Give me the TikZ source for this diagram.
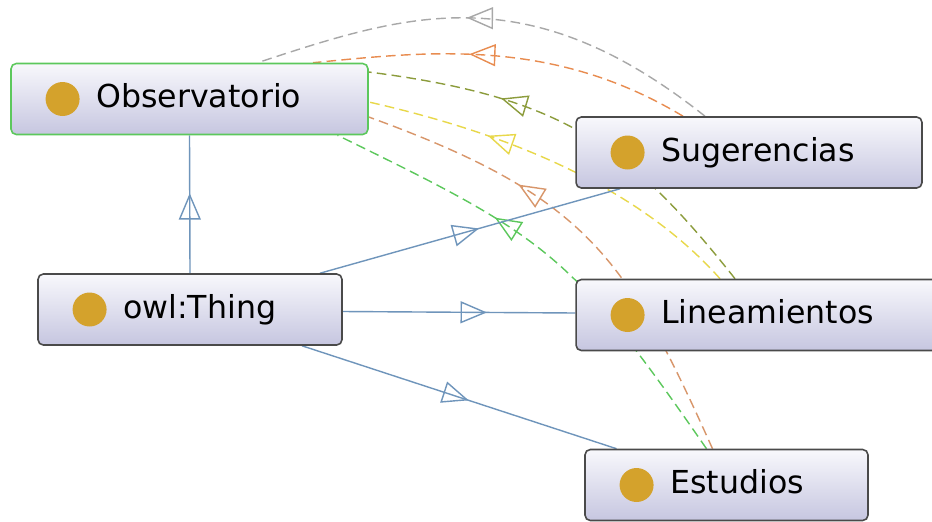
\documentclass[tikz,border=0pt]{standalone}
\usepackage{fontspec}
\setmainfont{DejaVu Sans}
\usetikzlibrary{positioning,arrows.meta,decorations.markings,backgrounds}
\definecolor{boxline}{HTML}{4A4A4A}
\definecolor{obsline}{HTML}{5CC85C}
\definecolor{boxtop}{HTML}{F8F8FC}
\definecolor{boxbot}{HTML}{C6C6E0}
\definecolor{beadc}{HTML}{D4A22C}
\definecolor{isablue}{HTML}{6F95BB}
\definecolor{grayc}{HTML}{A8A8A8}
\definecolor{orangec}{HTML}{E88C50}
\definecolor{olivec}{HTML}{8C9C3C}
\definecolor{yellowc}{HTML}{E8D84A}
\definecolor{tanc}{HTML}{D8966A}
\definecolor{greenc}{HTML}{5CC85C}
\tikzset{
  cls/.style={draw=boxline, line width=0.9pt, rounded corners=3pt, top color=boxtop, bottom color=boxbot, minimum height=1.42cm, inner sep=0pt},
  bead/.style={circle, fill=beadc, minimum size=0.68cm, inner sep=0pt},
  cname/.style={inner sep=0pt, font=\fontsize{18}{20}\selectfont, text height=10pt, text depth=0pt, right=0.32cm of #1},
  isa/.style={draw=isablue, line width=0.8pt, postaction={decorate, decoration={markings, mark=at position #1 with {\arrow{Triangle[open, length=15pt, width=12.5pt]}}}}},
  eqv/.style 2 args={draw=#1, line width=0.8pt, dash pattern=on 5.5pt off 3pt, postaction={decorate, decoration={markings, mark=at position #2 with {\arrow{Triangle[open, length=15pt, width=12.5pt]}}}}}
}
\begin{document}
\begin{tikzpicture}[x=0.02cm, y=-0.02cm]
    \useasboundingbox (0,0) rectangle (932,521);
    \node[cls, draw=obsline, minimum width=7.14cm] (obs) at (189.5,99) {};
    \node[cls, minimum width=6.92cm] (sug) at (749,152.5) {};
    \node[cls, minimum width=6.08cm] (thing) at (190,309.5) {};
    \node[cls, minimum width=7.3cm] (lin) at (758.5,315) {};
    \node[cls, minimum width=5.66cm] (est) at (726.5,485) {};
    \node[bead, right=0.7cm of obs.west] (obsdot) {};
    \node[bead, right=0.7cm of sug.west] (sugdot) {};
    \node[bead, right=0.7cm of thing.west] (thingdot) {};
    \node[bead, right=0.7cm of lin.west] (lindot) {};
    \node[bead, right=0.7cm of est.west] (estdot) {};
    \node[cname=obsdot] (obslbl) {Observatorio};
    \node[cname=sugdot] (suglbl) {Sugerencias};
    \node[cname=thingdot] (thinglbl) {owl:Thing};
    \node[cname=lindot] (linlbl) {Lineamientos};
    \node[cname=estdot] (estlbl) {Estudios};
    \begin{scope}[on background layer]
    \fill[white] (0,0) rectangle (932,521);
    \draw[eqv={grayc}{0.55}] ([shift={(-44,0)}]sug.north) .. controls (526,-26) and (406,14) .. ([shift={(68,0)}]obs.north);
    \draw[eqv={orangec}{0.59}] ([shift={(-66,0)}]sug.north) .. controls (550,36) and (424,52) .. ([shift={(123.5,0)}]obs.north);
    \draw[eqv={olivec}{0.69}] ([shift={(-23.5,0)}]lin.north) .. controls (629,145) and (563,97) .. ([shift={(0,-27)}]obs.east);
    \draw[eqv={yellowc}{0.69}] ([shift={(-38.5,0)}]lin.north) .. controls (634,182) and (497,131) .. ([shift={(0,3)}]obs.east);
    \draw[eqv={tanc}{0.67}] ([shift={(-14,0)}]est.north) .. controls (626,256) and (586,196) .. ([shift={(0,18)}]obs.east);
    \draw[eqv={greenc}{0.64}] ([shift={(-20,0)}]est.north) .. controls (571,253) and (548,238) .. ([shift={(148,0)}]obs.south);
    \draw[isa=0.58] (thing.north) -- (obs.south);
    \draw[isa=0.53] ([shift={(130,0)}]thing.north) -- ([shift={(-129,0)}]sug.south);
    \draw[isa=0.62] ([shift={(0,2)}]thing.east) -- ([shift={(0,-2)}]lin.west);
    \draw[isa=0.53] ([shift={(112,0)}]thing.south) -- ([shift={(-110,0)}]est.north);
    \end{scope}
\end{tikzpicture}
\end{document}
